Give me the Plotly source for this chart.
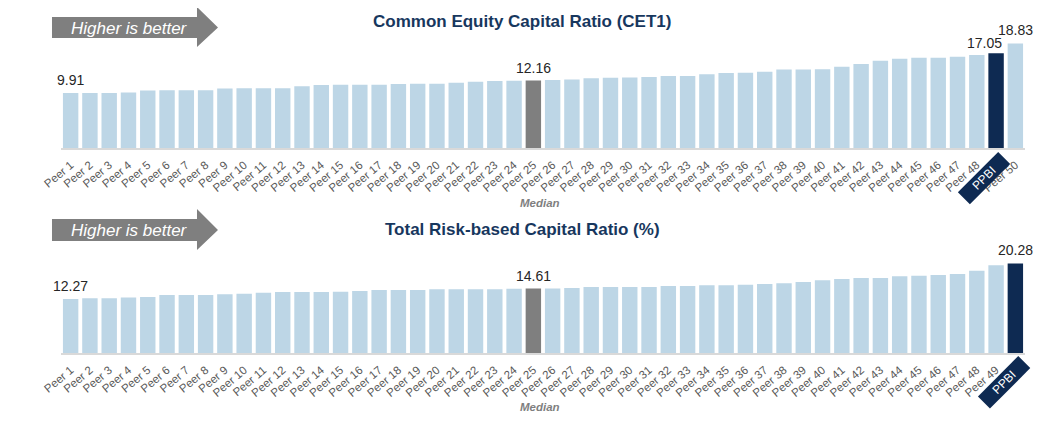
import plotly.graph_objects as go

# ---------------- DATA ----------------
cet1_categories = [f"Peer {i}" for i in range(1, 49)] + ["PPBI", "Peer 50"]
cet1_values = [9.91, 9.92, 9.93, 10.03, 10.38, 10.40, 10.41, 10.42,
               10.75, 10.77, 10.78, 10.80, 11.14, 11.37, 11.39, 11.40,
               11.41, 11.55, 11.57, 11.58, 11.76, 11.94, 12.08, 12.14,
               12.16, 12.25, 12.37, 12.56, 12.67, 12.69, 12.80, 12.98,
               13.00, 13.30, 13.53, 13.55, 13.73, 14.15, 14.16, 14.18,
               14.65, 15.14, 15.70, 16.06, 16.24, 16.26, 16.43, 16.74,
               17.05, 18.83]
cet1_labeled = ["Peer 1", "Peer 25", "PPBI", "Peer 50"]

trbc_categories = [f"Peer {i}" for i in range(1, 50)] + ["PPBI"]
trbc_values = [12.27, 12.42, 12.43, 12.57, 12.72, 13.15, 13.17, 13.18,
               13.32, 13.47, 13.69, 13.83, 13.85, 13.86, 13.87, 14.07,
               14.28, 14.30, 14.31, 14.44, 14.45, 14.46, 14.47, 14.58,
               14.61, 14.62, 14.75, 14.95, 14.97, 14.98, 14.99, 15.19,
               15.21, 15.34, 15.36, 15.50, 15.65, 15.80, 16.10, 16.48,
               16.78, 16.99, 17.01, 17.38, 17.53, 17.68, 17.91, 18.66,
               19.86, 20.28]
trbc_labeled = ["Peer 1", "Peer 25", "PPBI"]

median_name = "Peer 25"
company_name = "PPBI"

chart_titles = ["Common Equity Capital Ratio (CET1)", "Total Risk-based Capital Ratio (%)"]
arrow_text = "Higher is better"
median_text = "Median"

# ---------------- STYLE ----------------
C_PEER = "#BDD6E6"
C_MED = "#7F7F7F"
C_CO = "#0E2A52"
C_TITLE = "#17375E"
C_TICK = "#595959"
C_LABEL = "#262626"
FONT = "Liberation Sans, Arial, sans-serif"

# page body has an 8px margin: figure is sized to fit the 1044x421 window
OFF = 8
W, H = 1044 - 2 * OFF, 421 - 2 * OFF


def px(x):
    return (x - OFF) / W


def py(y):
    return 1 - (y - OFF) / H


def colors_for(cats):
    out = []
    for c in cats:
        if c == company_name:
            out.append(C_CO)
        elif c == median_name:
            out.append(C_MED)
        else:
            out.append(C_PEER)
    return out


fig = go.Figure()

for cats, vals, xa, ya in [
    (cet1_categories, cet1_values, "x", "y"),
    (trbc_categories, trbc_values, "x2", "y2"),
]:
    fig.add_trace(go.Bar(
        x=cats, y=vals, xaxis=xa, yaxis=ya,
        marker=dict(color=colors_for(cats), line=dict(width=0)),
        hoverinfo="x+y", showlegend=False,
    ))

xdom = [px(61), px(1025)]


def xaxis_cfg(cats, anchor):
    return dict(
        domain=xdom, anchor=anchor, type="category", automargin=False,
        categoryorder="array", categoryarray=cats,
        tickmode="array", tickvals=cats,
        ticktext=["" if c == company_name else c for c in cats],
        tickangle=-40, tickfont=dict(size=11.5, color=C_TICK, family=FONT),
        ticklabelstandoff=4, ticklabelshift=0,
        showline=True, linecolor="#D9D9D9", linewidth=1.5,
        ticks="", showgrid=False, zeroline=False,
        range=[-0.5, len(cats) - 0.5],
    )


fig.update_layout(
    width=W, height=H, autosize=False,
    margin=dict(l=0, r=0, t=0, b=0, pad=0),
    paper_bgcolor="white", plot_bgcolor="white",
    bargap=0.2,
    font=dict(family=FONT),
    xaxis=xaxis_cfg(cet1_categories, "y"),
    xaxis2=xaxis_cfg(trbc_categories, "y2"),
    yaxis=dict(domain=[py(148.3), py(30)], range=[0, (148.3 - 30) / 5.57],
               visible=False, showgrid=False, zeroline=False, automargin=False),
    yaxis2=dict(domain=[py(353.3), py(255)], range=[0, (353.3 - 255) / 4.43],
                visible=False, showgrid=False, zeroline=False, automargin=False),
)

shapes = []
annotations = []

# Value labels above selected bars
for cats, vals, labeled, xa, ya in [
    (cet1_categories, cet1_values, cet1_labeled, "x", "y"),
    (trbc_categories, trbc_values, trbc_labeled, "x2", "y2"),
]:
    for c, v in zip(cats, vals):
        if c not in labeled:
            continue
        crowded = (xa == "x" and c == company_name)
        annotations.append(dict(
            text=f"{v:.2f}", x=c, y=v, xref=xa, yref=ya,
            xanchor="center", yanchor="bottom", showarrow=False,
            xshift=-12 if crowded else 0, yshift=0 if crowded else 3,
            font=dict(size=14, color=C_LABEL, family=FONT),
        ))

# Arrows "Higher is better"
for (ytop, ybot, htop, hbot) in [(17, 38, 7, 47), (219, 241, 209, 250)]:
    ymid = (ytop + ybot) / 2
    pts = [(52, ytop), (197, ytop), (197, htop), (218, ymid), (197, hbot), (197, ybot), (52, ybot)]
    path = "M " + " L ".join(f"{px(a):.5f},{py(b):.5f}" for a, b in pts) + " Z"
    shapes.append(dict(type="path", xref="paper", yref="paper", path=path,
                       fillcolor="#7F7F7F", line=dict(width=0), layer="above"))
    annotations.append(dict(text=f"<i>{arrow_text}</i>", xref="paper", yref="paper",
                            x=px(129), y=py(ymid + 0.5), xanchor="center", yanchor="middle",
                            showarrow=False, font=dict(size=17, color="white", family=FONT)))

# Titles
for t, yy in zip(chart_titles, [22, 229]):
    annotations.append(dict(text=f"<b>{t}</b>", xref="paper", yref="paper",
                            x=px(522), y=py(yy), xanchor="center", yanchor="middle",
                            showarrow=False, font=dict(size=17, color=C_TITLE, family=FONT)))

# Median labels
for xr, yy in [("x", 203), ("x2", 407)]:
    annotations.append(dict(text=f"<b><i>{median_text}</i></b>", xref=xr, yref="paper",
                            x=median_name, y=py(yy), xanchor="center", yanchor="middle",
                            xshift=7, showarrow=False,
                            font=dict(size=11.5, color="#7F7F7F", family=FONT)))

# Company tick label boxes
nb = "\u00a0"
for xr, yy, xs in [("x", 178, -12), ("x2", 382, -11)]:
    annotations.append(dict(text=f"{nb*4}PPBI{nb*4}", xref=xr, yref="paper",
                            x=company_name, y=py(yy), xanchor="center", yanchor="middle",
                            xshift=xs, showarrow=False, textangle=-45,
                            bgcolor=C_CO, borderpad=1,
                            font=dict(size=12, color="white", family=FONT)))

fig.update_layout(shapes=shapes, annotations=annotations)

fig.write_html("out.html")
